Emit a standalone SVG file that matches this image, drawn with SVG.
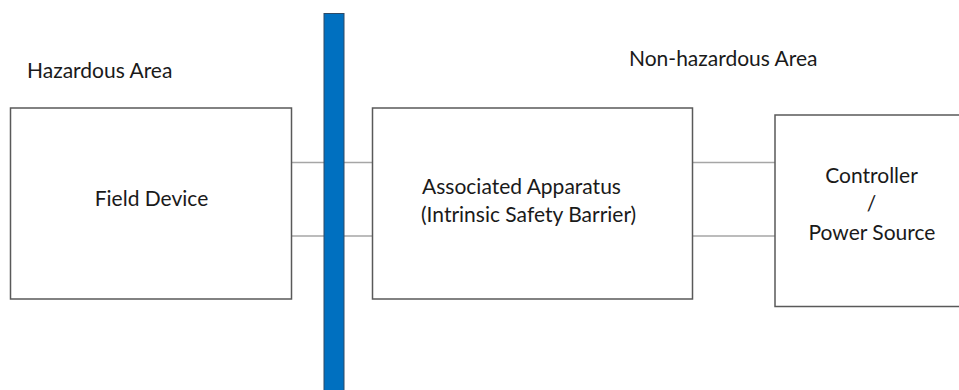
<svg xmlns="http://www.w3.org/2000/svg" width="959" height="390" viewBox="0 0 959 390">
  <style>
    .box { fill: #ffffff; stroke: #595959; stroke-width: 1.5; }
    .wire { stroke: #a6a6a6; stroke-width: 1.5; fill: none; }
    .label { font-family: Lato, "Open Sans", "Liberation Sans", sans-serif; font-size: 21px; fill: #1a1a1a; }
    .mid { text-anchor: middle; }
  </style>
  <rect width="959" height="390" fill="#ffffff"/>

  <!-- area captions -->
  <text class="label" x="27" y="78">Hazardous Area</text>
  <text class="label" x="629" y="66">Non-hazardous Area</text>

  <!-- connectors -->
  <g id="connectors">
    <line class="wire" x1="291.5" y1="162.5" x2="324" y2="162.5"/>
    <line class="wire" x1="291.5" y1="236" x2="324" y2="236"/>
    <line class="wire" x1="344" y1="162.5" x2="372.5" y2="162.5"/>
    <line class="wire" x1="344" y1="236" x2="372.5" y2="236"/>
    <line class="wire" x1="692.5" y1="162.5" x2="775" y2="162.5"/>
    <line class="wire" x1="692.5" y1="236" x2="775" y2="236"/>
  </g>

  <g id="field-device">
    <rect class="box" x="10.5" y="108" width="281" height="191"/>
    <text class="label mid" x="151.5" y="206">Field Device</text>
  </g>

  <g id="barrier-wall">
    <rect x="324" y="13.5" width="20" height="380" fill="#0070c0" stroke="#2e4a66" stroke-width="1"/>
  </g>

  <g id="associated-apparatus">
    <rect class="box" x="372.5" y="108" width="320" height="191"/>
    <text class="label" x="422" y="194">Associated Apparatus</text>
    <text class="label" x="421" y="222">(Intrinsic Safety Barrier)</text>
  </g>

  <g id="controller">
    <rect class="box" x="775" y="115" width="190" height="191.5"/>
    <text class="label mid" x="871.5" y="183">Controller</text>
    <text class="label mid" x="871.5" y="211">/</text>
    <text class="label mid" x="872" y="240">Power Source</text>
  </g>
</svg>
